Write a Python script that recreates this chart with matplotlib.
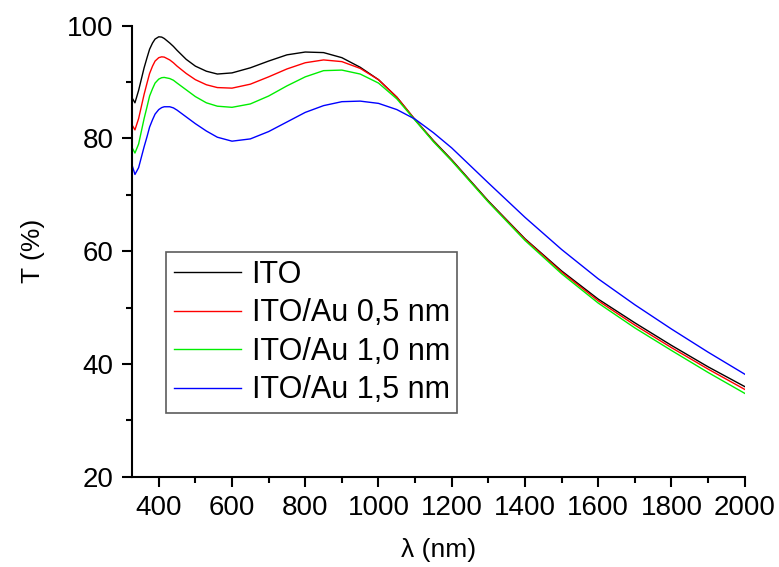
import numpy as np
from matplotlib import pyplot as plt
from matplotlib.ticker import MultipleLocator

# wavelength grid (nm)
wl = [326, 335, 345, 360, 368, 375, 383, 390, 400, 408, 415, 430, 440, 450, 475,
      500, 530, 560, 600, 650, 700, 750, 800, 850, 900, 950, 1000, 1050, 1100,
      1150, 1200, 1300, 1400, 1500, 1600, 1700, 1800, 1900, 2000]

# transmittance (%)
t_ito = [87.3, 86.3, 88.5, 92.5, 94.3, 95.8, 96.9, 97.6, 98.0, 97.95, 97.7, 96.9,
         96.3, 95.6, 94.0, 92.8, 91.9, 91.4, 91.6, 92.5, 93.7, 94.8, 95.3, 95.2,
         94.3, 92.6, 90.4, 87.3, 83.3, 79.6, 76.2, 68.9, 62.2, 56.5, 51.5, 47.3,
         43.3, 39.5, 36.0]
t_au05 = [82.5, 81.5, 83.5, 87.8, 89.8, 91.5, 92.8, 93.7, 94.3, 94.45, 94.4, 93.9,
          93.4, 92.8, 91.5, 90.4, 89.5, 89.0, 88.9, 89.6, 90.9, 92.3, 93.4, 93.9,
          93.6, 92.4, 90.4, 87.3, 83.3, 79.5, 76.1, 68.8, 62.1, 56.3, 51.2, 46.9,
          42.9, 39.1, 35.5]
t_au10 = [78.5, 77.4, 79.0, 83.5, 85.6, 87.5, 88.8, 89.8, 90.5, 90.75, 90.8, 90.6,
          90.3, 89.8, 88.6, 87.4, 86.3, 85.7, 85.5, 86.1, 87.5, 89.3, 90.9, 92.0,
          92.1, 91.4, 89.8, 87.0, 83.2, 79.4, 76.0, 68.7, 61.9, 56.0, 50.8, 46.4,
          42.4, 38.5, 34.8]
t_au15 = [75.5, 73.6, 74.8, 78.5, 80.3, 82.0, 83.3, 84.3, 85.1, 85.45, 85.6, 85.6,
          85.4, 85.0, 83.8, 82.6, 81.3, 80.2, 79.5, 79.9, 81.2, 82.9, 84.6, 85.8,
          86.5, 86.6, 86.2, 85.1, 83.4, 81.0, 78.3, 72.1, 66.0, 60.3, 55.1, 50.5,
          46.2, 42.1, 38.2]

labels = ['ITO', 'ITO/Au 0,5 nm', 'ITO/Au 1,0 nm', 'ITO/Au 1,5 nm']
colors = ['black', 'red', '#00ee00', 'blue']

plt.rcParams['font.family'] = ['Liberation Sans', 'DejaVu Sans']

fig = plt.figure(figsize=(7.79, 5.67), dpi=100)
ax = fig.add_axes([0.169, 0.159, 0.787, 0.796])

for t, lab, c in zip([t_ito, t_au05, t_au10, t_au15], labels, colors):
    ax.plot(wl, t, color=c, lw=1.0, label=lab)

ax.set_xlim(326, 2000)
ax.set_ylim(20, 100)
ax.xaxis.set_major_locator(MultipleLocator(200))
ax.xaxis.set_minor_locator(MultipleLocator(100))
ax.yaxis.set_major_locator(MultipleLocator(20))
ax.yaxis.set_minor_locator(MultipleLocator(10))
ax.set_xticks(np.arange(400, 2001, 200))

for s in ['top', 'right']:
    ax.spines[s].set_visible(False)
for s in ['left', 'bottom']:
    ax.spines[s].set_linewidth(1.5)

ax.tick_params(which='major', direction='out', length=7, width=1.5,
               labelsize=20, pad=6)
ax.tick_params(which='minor', direction='out', length=4, width=1.5)

ax.set_xlabel('λ (nm)', fontsize=19, labelpad=12)
ax.set_ylabel('T (%)', fontsize=19, labelpad=16)

leg = ax.legend(loc='upper left', bbox_to_anchor=(166 / 779, 1 - 252 / 567),
                bbox_transform=fig.transFigure, fontsize=22, frameon=True,
                fancybox=False, handlelength=2.2, handletextpad=0.35,
                labelspacing=0.28, borderpad=0.25, borderaxespad=0)
leg.get_frame().set_edgecolor('#333333')
leg.get_frame().set_linewidth(1.2)

fig.savefig('out.png', dpi=100)
